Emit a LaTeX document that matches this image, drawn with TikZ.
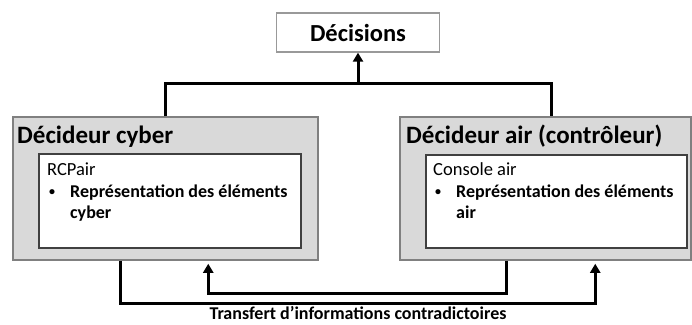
\documentclass[tikz,border=0pt]{standalone}
\usepackage{fontspec}
\setmainfont{Carlito}
\usetikzlibrary{arrows.meta,calc}
\begin{document}
\begin{tikzpicture}[x=1pt,y=-1pt,
  outerbox/.style={draw=black!50,line width=1.5pt,fill=black!15,rectangle,inner sep=0pt},
  innerbox/.style={draw=black!75,line width=1.3pt,fill=white,rectangle,inner sep=0pt},
  decbox/.style={draw=black!40,line width=1.3pt,fill=white,rectangle,inner sep=0pt},
  conn/.style={line width=3pt,black},
  arr/.style={conn,-{Triangle[length=9pt,width=10pt]}},
  title/.style={anchor=base west,inner sep=0pt,font=\fontsize{25}{28}\selectfont\bfseries},
  head/.style={anchor=base west,inner sep=0pt,font=\fontsize{18.5}{22}\selectfont},
  bul/.style={anchor=base west,inner sep=0pt,font=\fontsize{12}{14}\selectfont\bfseries},
  item/.style={anchor=base west,inner sep=0pt,font=\fontsize{18}{20}\selectfont\bfseries}]
\useasboundingbox (0,0) rectangle (692,324);
\node[decbox,minimum width=163pt,minimum height=39pt] (dec) at (358,32.5) {};
\node[anchor=base,inner sep=0pt,font=\fontsize{24.5}{28}\selectfont\bfseries] (dect) at (358,41) {Décisions};
\node[outerbox,minimum width=305pt,minimum height=143pt] (lb) at (165.5,188.5) {};
\node[outerbox,minimum width=291pt,minimum height=143pt] (rb) at (545.5,188.5) {};
\node[innerbox,minimum width=262pt,minimum height=94pt] (li) at (170,201) {};
\node[innerbox,minimum width=261pt,minimum height=93pt] (ri) at (556.5,201.5) {};
\node[title] (lt) at (17,143) {Décideur cyber};
\node[title] (rt) at (406,143) {Décideur air (contrôleur)};
\node[head] (lh) at (47,175) {RCPair};
\node[bul] (lb1) at (49,195) {•};
\node[item] (li1) at (70,197) {Représentation des éléments};
\node[item] (li2) at (70,218) {cyber};
\node[head] (rh) at (433,175) {Console air};
\node[bul] (rb1) at (435,195) {•};
\node[item] (ri1) at (456,197) {Représentation des éléments};
\node[item] (ri2) at (456,218) {air};
% top connectors
\coordinate (jn) at ($(dec.south)+(0,31)$);
\coordinate (rtop) at ($(rb.north west)+(152.5,0)$);
\draw[conn] (lb.north) |- (jn) -| (rtop);
\draw[arr] (jn) -- (dec.south);
% bottom connectors
\coordinate (ls) at ($(lb.south west)+(108,0)$);
\coordinate (la) at ($(lb.south west)+(196,3)$);
\coordinate (rs) at ($(rb.south west)+(107.5,0)$);
\coordinate (ra) at ($(rb.south west)+(196,3)$);
\draw[arr] (ls) -- ++(0,43) -| (ra);
\draw[arr] (rs) -- ++(0,33) -| (la);
\node[inner sep=0pt,anchor=base,font=\fontsize{18}{20}\selectfont\bfseries] (tr) at (358,319) {Transfert d’informations contradictoires};
\end{tikzpicture}
\end{document}
